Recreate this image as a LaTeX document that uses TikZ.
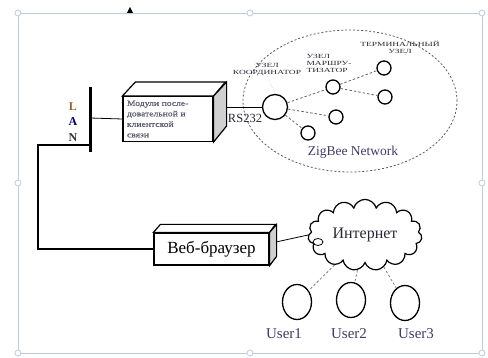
\documentclass[tikz,border=0pt]{standalone}
\usepackage{fontspec}
\setmainfont{Liberation Serif}
\newfontfamily\widefont[FakeStretch=1.5]{Liberation Serif}
\newfontfamily\boxfont[FakeStretch=1.2,FakeBold=1]{Liberation Serif}
\usetikzlibrary{shapes.symbols,shapes.geometric,positioning}

\definecolor{framecol}{RGB}{188,204,222}
\definecolor{sidegray}{RGB}{208,208,208}
\definecolor{usercol}{RGB}{62,60,100}
\definecolor{lblcol}{RGB}{40,40,52}
\definecolor{boxtext}{RGB}{96,96,116}

\begin{document}
\begin{tikzpicture}[x=1pt,y=-1pt,
  frontbox/.style={draw,line width=1.2pt,fill=white,inner sep=3pt,align=left},
  zbnode/.style={circle,draw,line width=1.3pt,minimum size=14pt,inner sep=0pt},
  zblink/.style={thick,gray!80!black,dash pattern=on 2.5pt off 2pt},
  userring/.style={ellipse,draw,line width=1.3pt,minimum width=29pt,minimum height=35pt,inner sep=0pt},
  tinylbl/.style={font=\widefont\fontsize{6.3}{7}\selectfont,align=left,text=lblcol,inner sep=0pt},
  userlbl/.style={font=\fontsize{15}{15}\selectfont,text=usercol}
]
\useasboundingbox (0,0) rectangle (488,358);

% frame with handles
\draw[framecol,thick] (18,13) rectangle (482,353);
\foreach \x/\y in {18/13,250/13,482/13,18/183,482/183,18/353,250/353,482/353}
  \draw[framecol,thick,fill=white] (\x,\y) circle (3pt);
\fill (127,13) -- (130,7) -- (133,13) -- cycle;

% LAN
\coordinate (lantop) at (90,87);
\coordinate (lanbot) at (90,152);
\coordinate (lanmid) at (90,118);
\coordinate (lanjoin) at (90,145);
\draw[line width=3pt] (lantop) -- (lanbot);
\node[font=\bfseries\fontsize{12}{12}\selectfont,text=brown!80!black] (lanL) at (73,107) {L};
\node[font=\bfseries\fontsize{12}{12}\selectfont,text=blue!40!black] (lanA) at (73,122) {A};
\node[font=\bfseries\fontsize{12}{12}\selectfont,text=black!80] (lanN) at (73,138) {N};

% module box
\node[frontbox,minimum width=90pt,minimum height=44pt,text width=82pt,inner sep=4pt,
  font=\boxfont\fontsize{8}{10.5}\selectfont,text=boxtext] (mod) at (168,119)
  {Модули после-\\довательной и\\клиентской\\связи};
\draw[line width=1.2pt,fill=white] (mod.north west) -- ++(13,-14) -- ++(90,0) -- (mod.north east) -- cycle;
\draw[line width=1.2pt,fill=sidegray] (mod.north east) -- ++(13,-14) -- ++(0,44) -- (mod.south east) -- cycle;
\draw[thick] (lanmid) -- (mod.west);
\coordinate (rsport) at (226,107);

% ZigBee network
\node[ellipse,draw,thick,gray!70!black,dash pattern=on 2pt off 2pt,
  minimum width=214pt,minimum height=142pt] (zb) at (350,101) {};
\node[circle,draw,line width=1.3pt,minimum size=25pt,inner sep=0pt,fill=white] (coord) at (275,107) {};
\node[zbnode] (r1) at (333,87) {};
\node[zbnode] (t1) at (384,68) {};
\node[zbnode] (t2) at (385,97) {};
\node[zbnode] (e1) at (336,117) {};
\node[zbnode] (e2) at (308,133) {};
\draw[thick] (rsport) -- (coord);
\draw[zblink] (coord) -- (r1);
\draw[zblink] (coord) -- (e1);
\draw[zblink] (coord) -- (e2);
\draw[zblink] (r1) -- (t1);
\draw[zblink] (r1) -- (t2);
\node[font=\fontsize{12.5}{12.5}\selectfont,text=lblcol] (rs) at (245,118) {RS232};
\node[tinylbl,align=center] (clbl) at (267,70) {УЗЕЛ\\КООРДИНАТОР};
\node[tinylbl] (rlbl) at (329,63) {УЗЕЛ\\МАРШРУ-\\ТИЗАТОР};
\node[tinylbl,align=center] (tlbl) at (400,47) {ТЕРМИНАЛЬНЫЙ\\УЗЕЛ};
\draw[gray,dotted] (clbl.south) -- (coord.north);
\node[font=\fontsize{13.5}{13.5}\selectfont,text=usercol] (zbname) at (353,152) {ZigBee Network};

% web browser box
\node[frontbox,minimum width=115pt,minimum height=32pt,
  font=\fontsize{17}{17}\selectfont] (web) at (211.5,249) {Веб-браузер};
\draw[line width=1.2pt,fill=white] (web.north west) -- ++(7,-8) -- ++(115,0) -- (web.north east) -- cycle;
\draw[line width=1.2pt,fill=sidegray] (web.north east) -- ++(7,-8) -- ++(0,32) -- (web.south east) -- cycle;
\draw[line width=1.8pt] (lanjoin) -- (38,145) -- (38,249) -- (web.west);
\coordinate (webport) at (276,242);

% internet
\node[cloud,draw,line width=1.2pt,cloud puffs=15,aspect=1.8,minimum width=114pt,
  minimum height=64pt,font=\fontsize{16}{16}\selectfont,text=lblcol] (net) at (365,235) {Интернет};
\draw[thick] (webport) -- (net.west);
\draw[thick] (318,242) ellipse (5pt and 3.5pt);

% users
\node[userring] (u1) at (297,302) {};
\node[userring] (u2) at (351,300) {};
\node[userring] (u3) at (405,303) {};
\draw[zblink,gray] (net) -- (u1);
\draw[zblink,gray] (net) -- (u2);
\draw[zblink,gray] (net) -- (u3);
\node[userlbl] (u1lbl) at (284,334) {User1};
\node[userlbl] (u2lbl) at (349,334) {User2};
\node[userlbl] (u3lbl) at (416,334) {User3};
\end{tikzpicture}
\end{document}
